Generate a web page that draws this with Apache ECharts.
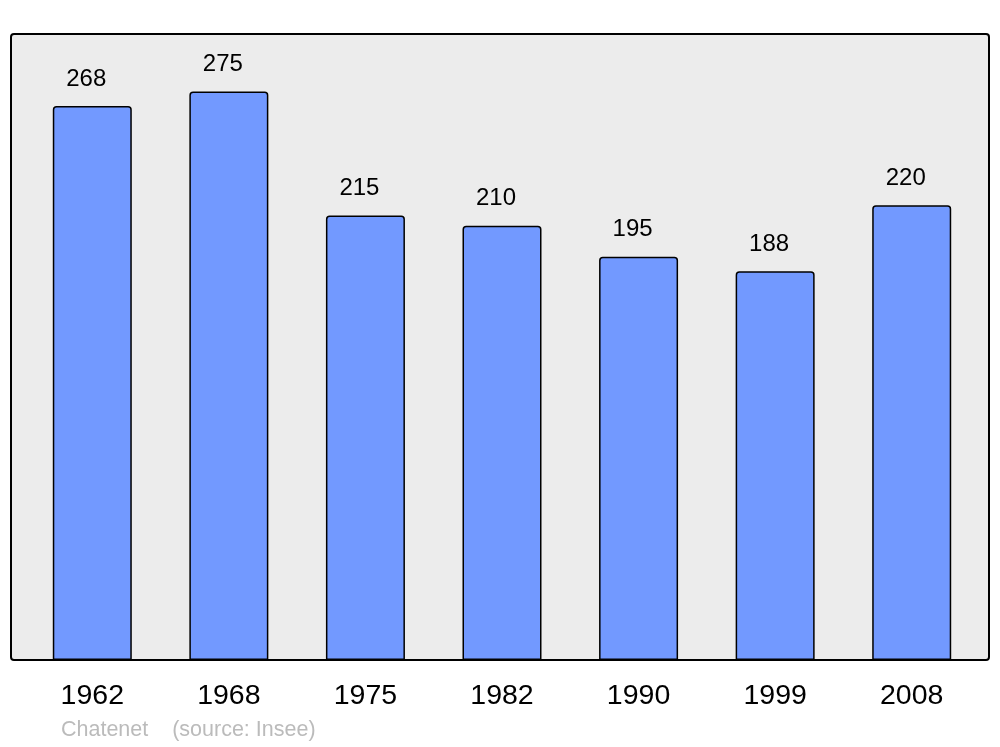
<!DOCTYPE html>
<html><head><meta charset="utf-8">
<script src="https://cdn.jsdelivr.net/npm/echarts@6/dist/echarts.min.js"></script>
<style>html,body{margin:0;padding:0;background:#fff}#c{width:1000px;height:747px}</style>
</head><body><div id="c"></div>
<script>
const years = ['1962','1968','1975','1982','1990','1999','2008'];
const population = [268, 275, 215, 210, 195, 188, 220];
const footer = 'Chatenet    (source: Insee)';

const chart = echarts.init(document.getElementById('c'), null, {renderer:'canvas'});
chart.setOption({
  animation: false,
  backgroundColor: '#ffffff',
  graphic: [
    { type: 'rect', z: 0, shape: { x: 11, y: 34, width: 978, height: 626, r: 3 },
      style: { fill: '#ececec', stroke: '#000', lineWidth: 2 } },
    { type: 'text', left: 61, top: 719, z: 5,
      style: { text: footer, fill: '#bbbbbb', font: '21.5px "Liberation Sans", Arial, sans-serif' } }
  ],
  grid: { left: 24, right: 20, top: 34, bottom: 87 },
  xAxis: {
    type: 'category', data: years,
    axisLine: { show: false }, axisTick: { show: false },
    axisLabel: { color: '#000', fontSize: 28.5, fontFamily: '"Liberation Sans", Arial, sans-serif', margin: 22 }
  },
  yAxis: {
    type: 'value', min: 0, max: 302.8,
    show: false, splitLine: { show: false }
  },
  series: [{
    type: 'bar', data: population, barWidth: 79, z: 2,
    itemStyle: { color: '#7299ff', borderColor: '#000', borderWidth: 1.5, borderRadius: [3,3,0,0] },
    label: { show: true, position: 'top', distance: 15, offset: [-6, 0], color: '#000', fontSize: 24,
      fontFamily: '"Liberation Sans", Arial, sans-serif' }
  }]
});
</script></body></html>
